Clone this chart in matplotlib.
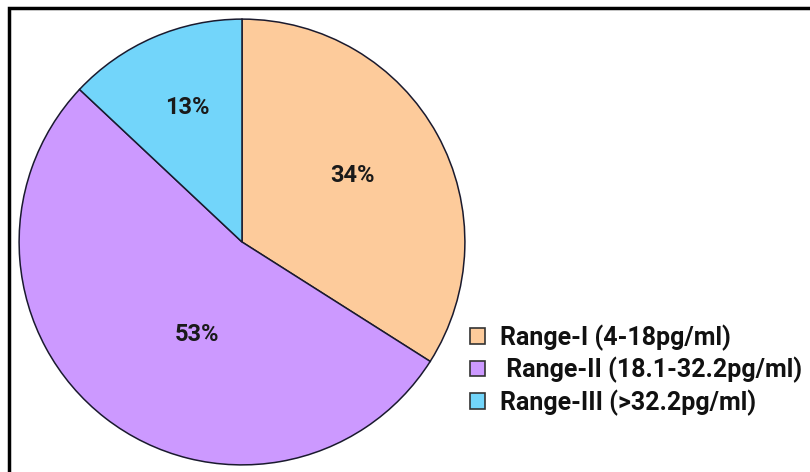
import matplotlib.pyplot as plt
from matplotlib.patches import Rectangle, Patch
import numpy as np

plt.rcParams['font.family'] = ['Roboto', 'DejaVu Sans']

# data
labels = ["Range-I (4-18pg/ml)", " Range-II (18.1-32.2pg/ml)", "Range-III (>32.2pg/ml)"]
shares = [34, 53, 13]
colors = ['#FDCB9B', '#CC99FF', '#72D5FA']

# where the percent labels sit (fraction of radius, angle in deg)
label_pos = [(0.58, 31), (0.46, -116), (0.65, 112)]

fig = plt.figure(figsize=(8.1, 4.72), dpi=100)
W, H = 810, 472
cx, cy, r = 242, 242, 224
ax = fig.add_axes([(cx-r)/W, (H-cy-r)/H, 2*r/W, 2*r/H])

wedges, texts = ax.pie(shares, colors=colors, startangle=90, counterclock=False,
                       radius=1, wedgeprops=dict(edgecolor='#1a1a2e', linewidth=1.1))
ax.set_xlim(-1.005, 1.005)
ax.set_ylim(-1.005, 1.005)
ax.set_aspect('equal')
ax.axis('off')

for s, (d, a) in zip(shares, label_pos):
    t = np.radians(a)
    ax.text(d*np.cos(t), d*np.sin(t), str(s)+"%", ha='center', va='center',
            fontsize=17, fontweight='bold', color='#1a1a1a')

handles = [Patch(facecolor=c, edgecolor='#333333', linewidth=1.2) for c in colors]
fig.legend(handles, labels, loc='center left', bbox_to_anchor=(0.565, 0.216),
           frameon=False, prop=dict(size=18, weight='bold'),
           handlelength=0.58, handleheight=0.58, handletextpad=0.6,
           labelspacing=0.25, labelcolor='#111111', borderpad=0)

# frame round the figure (right and bottom edges cut off)
fig.patches.append(Rectangle((9/W, -0.1), 1.0, 1.1-8/H, transform=fig.transFigure,
                             fill=False, edgecolor='black', linewidth=2.5))

fig.savefig('out.png', dpi=100)
